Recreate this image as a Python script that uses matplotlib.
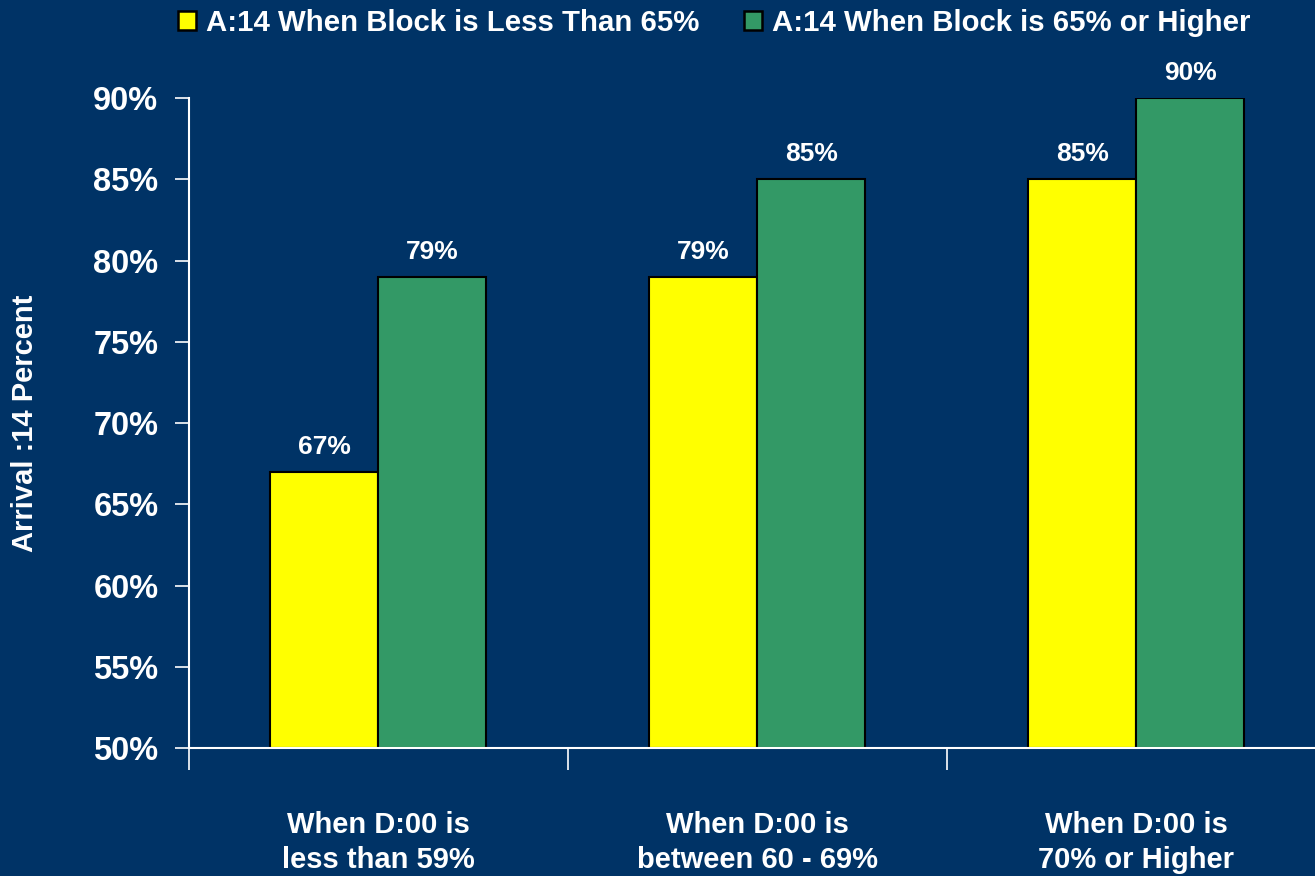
import numpy as np
import matplotlib.pyplot as plt
from matplotlib.ticker import FuncFormatter

categories = ["When D:00 is\nless than 59%", "When D:00 is\nbetween 60 - 69%", "When D:00 is\n70% or Higher"]
less_65 = [67, 79, 85]   # A:14 when block < 65%
high_65 = [79, 85, 90]   # A:14 when block >= 65%
series_names = ["A:14 When Block is Less Than 65%", "A:14 When Block is 65% or Higher"]

bg = "#003366"
plt.rcParams['font.family'] = ['Liberation Sans', 'DejaVu Sans']
plt.rcParams['font.weight'] = 'bold'

fig = plt.figure(figsize=(13.15, 8.76), dpi=100, facecolor=bg)
ax = fig.add_axes([0.1437, 0.1461, 0.8646, 0.742], facecolor=bg)

x = np.arange(len(categories))
w = 0.285
b1 = ax.bar(x - w/2, np.array(less_65) - 50, w, bottom=50, color="#FFFF00", edgecolor="black", linewidth=1.5, label=series_names[0])
b2 = ax.bar(x + w/2, np.array(high_65) - 50, w, bottom=50, color="#339966", edgecolor="black", linewidth=1.5, label=series_names[1])

for bars, vals in [(b1, less_65), (b2, high_65)]:
    for r, v in zip(bars, vals):
        ax.text(r.get_x() + r.get_width()/2, v + 0.8, f"{v}%", ha="center", va="bottom",
                color="white", fontsize=19, fontweight="bold")

ax.set_xlim(-0.5, 2.5)
ax.set_ylim(50, 90)
ax.set_yticks(np.arange(50, 91, 5))
ax.yaxis.set_major_formatter(FuncFormatter(lambda v, p: f"{v:.0f}%"))
ax.tick_params(axis="y", colors="white", labelsize=23.5, length=10, width=1.2, pad=12)

ax.set_xticks(x)
ax.set_xticklabels(categories, linespacing=1.35)
ax.set_xticks([-0.5, 0.5, 1.5, 2.5], minor=True)
ax.tick_params(axis="x", which="major", length=0, labelsize=21, labelcolor="white", pad=45)
ax.tick_params(axis="x", which="minor", length=16, width=1.2, colors="white")

for s in ["top", "right"]:
    ax.spines[s].set_visible(False)
for s in ["left", "bottom"]:
    ax.spines[s].set_color("white")
    ax.spines[s].set_linewidth(1.5)

ax.set_ylabel("Arrival :14 Percent", color="white", fontsize=21, fontweight="bold", labelpad=39)

leg = fig.legend(loc="center left", bbox_to_anchor=(0.1245, 0.974), ncol=2, frameon=False, borderpad=0,
                 fontsize=21.2, columnspacing=1.5, handlelength=0.6, handleheight=0.62, handletextpad=0.35)
for t in leg.get_texts():
    t.set_color("white")
for h in leg.legend_handles:
    h.set_linewidth(1.8)

fig.savefig("out.png", dpi=100, facecolor=bg)
